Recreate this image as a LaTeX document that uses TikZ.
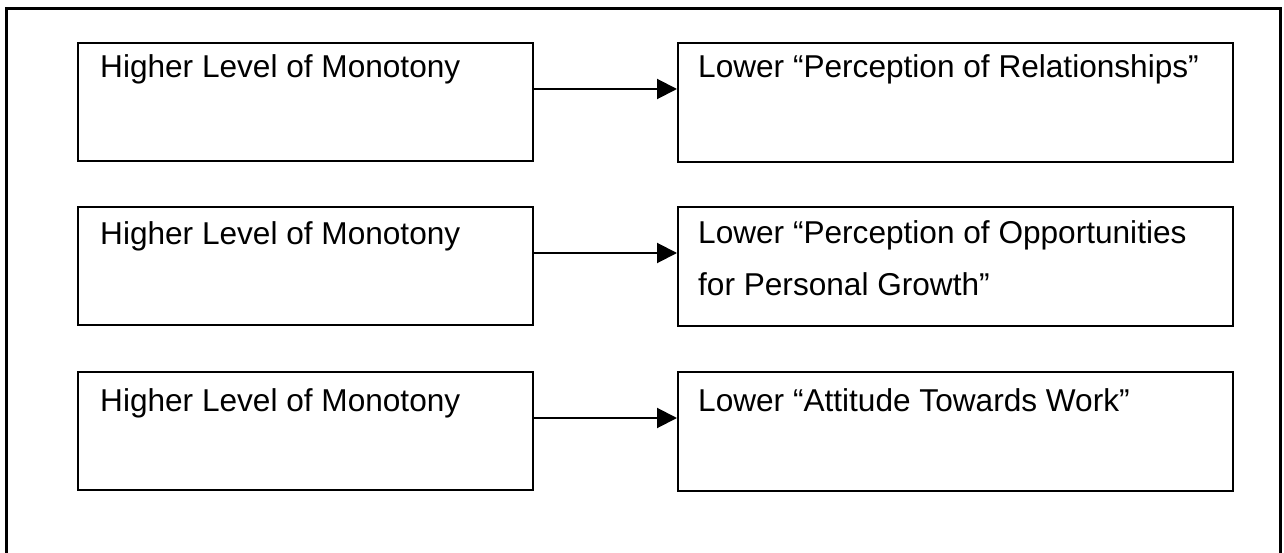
\documentclass[tikz,border=0pt]{standalone}
\usepackage{fontspec}
\setmainfont{Liberation Sans}
\usetikzlibrary{arrows.meta}
\begin{document}
\begin{tikzpicture}[x=1pt,y=-1pt,
  box/.style={draw=black, line width=2pt, rectangle, inner sep=0pt, anchor=north west},
  leftbox/.style={box, minimum width=455pt, minimum height=118pt},
  rightbox/.style={box, minimum width=555pt, minimum height=119pt},
  label/.style={anchor=base west, inner sep=0pt, align=left,
    font=\fontsize{31.6pt}{52pt}\selectfont},
  link/.style={line width=2pt, -{Triangle[length=20pt,width=20pt]}}]
  \useasboundingbox (0,0) rectangle (1284,553);
  \begin{scope}
    \clip (0,0) rectangle (1284,553);
    \draw[line width=3pt] (6,9) rectangle (1280,570);
  \end{scope}
  % three rows of cause and effect;
  % \base is the first baseline, \last the baseline of the last effect line
  \foreach \i/\top/\base/\last/\txt in {1/42/36/36/{Lower “Perception of Relationships”},
                            2/206/39/89/{Lower “Perception of Opportunities\\for Personal Growth”},
                            3/371/40/40/{Lower “Attitude Towards Work”}}{
    \node[leftbox] (cause\i) at (77,\top) {};
    \node[rightbox] (effect\i) at (677,\top) {};
    \node[label] (causetext\i) at (100,\top+\base) {Higher Level of Monotony};
    \node[label] (effecttext\i) at (698,\top+\last) {\txt};
    \draw[link] (cause\i.east |- 0,\top+47) -- (effect\i.west |- 0,\top+47);
  }
\end{tikzpicture}
\end{document}
